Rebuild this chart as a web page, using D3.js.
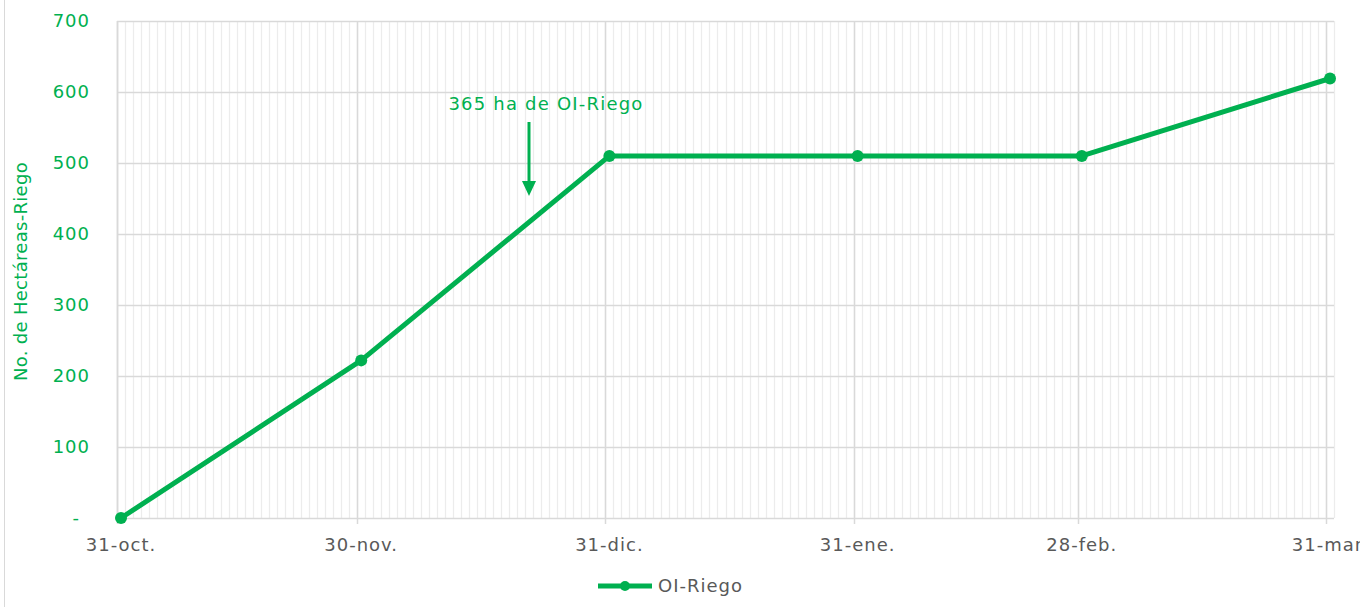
<!DOCTYPE html>
<html>
<head>
<meta charset="utf-8">
<script src="https://cdn.jsdelivr.net/npm/d3@7"></script>
<style>
  body { margin: 0; background: #fff; }
  svg { display: block; font-family: "DejaVu Sans", sans-serif; }
</style>
</head>
<body>
<div id="chart"></div>
<script>
// data
var dates = ["2022-10-31", "2022-11-30", "2022-12-31", "2023-01-31", "2023-02-28", "2023-03-31"];
var values = [0, 222, 510, 510, 510, 619];
var tickLabels = ["31-oct.", "30-nov.", "31-dic.", "31-ene.", "28-feb.", "31-mar."];
var yTicks = [0, 100, 200, 300, 400, 500, 600, 700];
var seriesName = "OI-Riego";
var noteText = "365 ha de OI-Riego";
var noteDate = "2022-12-21";

var width = 1360, height = 607;
var green = "#00b050", grey = "#595959";
var plotLeft = 117, plotRight = 1334, plotTop = 21, plotBottom = 518;

var parse = d3.utcParse("%Y-%m-%d");
var data = dates.map(function(d, i) { return { date: parse(d), value: values[i] }; });

var svg = d3.select("#chart").append("svg")
    .attr("width", width)
    .attr("height", height);

// chart area border (left edge visible)
svg.append("line")
    .attr("x1", 4.5).attr("x2", 4.5)
    .attr("y1", 0).attr("y2", height)
    .attr("stroke", "#d9d9d9");

// one slot per day, points sit in the middle of the slot
var scaleX = d3.scaleUtc()
    .domain([data[0].date, d3.utcDay.offset(data[data.length - 1].date, 1)])
    .range([plotLeft, plotRight]);
var scaleY = d3.scaleLinear()
    .domain([0, 700])
    .range([plotBottom, plotTop]);

function px(d) { return scaleX(d3.utcHour.offset(d, 12)); }

var g = svg.append("g");

// minor daily gridlines
var days = d3.utcDay.range(data[0].date, d3.utcDay.offset(data[data.length - 1].date, 2));
g.selectAll(".minor")
    .data(days)
    .enter()
    .append("line")
    .attr("x1", function(d) { return Math.round(scaleX(d)) + 0.5; })
    .attr("x2", function(d) { return Math.round(scaleX(d)) + 0.5; })
    .attr("y1", plotTop)
    .attr("y2", plotBottom)
    .attr("stroke", "#ececec")
    .attr("stroke-width", 1.2);

// horizontal gridlines
g.selectAll(".hgrid")
    .data(yTicks)
    .enter()
    .append("line")
    .attr("x1", plotLeft)
    .attr("x2", plotRight)
    .attr("y1", function(d) { return Math.round(scaleY(d)) + 0.5; })
    .attr("y2", function(d) { return Math.round(scaleY(d)) + 0.5; })
    .attr("stroke", "#d9d9d9")
    .attr("stroke-width", 1.3);

// major monthly gridlines + tick marks
g.selectAll(".major")
    .data(data)
    .enter()
    .append("line")
    .attr("x1", function(d) { return Math.round(scaleX(d.date)) + 0.5; })
    .attr("x2", function(d) { return Math.round(scaleX(d.date)) + 0.5; })
    .attr("y1", plotTop)
    .attr("y2", plotBottom + 6)
    .attr("stroke", "#d9d9d9")
    .attr("stroke-width", 1.5);

// left plot edge
g.append("line")
    .attr("x1", plotLeft + 0.5).attr("x2", plotLeft + 0.5)
    .attr("y1", plotTop).attr("y2", plotBottom)
    .attr("stroke", "#d9d9d9").attr("stroke-width", 1.5);

// y tick labels (zero shown as "-" like accounting format)
svg.selectAll(".ylab")
    .data(yTicks)
    .enter()
    .append("text")
    .attr("x", function(d) { return d === 0 ? 80 : 90; })
    .attr("y", function(d) { return scaleY(d); })
    .attr("dy", "0.35em")
    .attr("text-anchor", "end")
    .attr("fill", green)
    .style("font-size", "18px")
    .style("letter-spacing", "1px")
    .text(function(d) { return d === 0 ? "-" : d; });

// x tick labels
svg.selectAll(".xlab")
    .data(data)
    .enter()
    .append("text")
    .attr("x", function(d) { return px(d.date); })
    .attr("y", 551)
    .attr("text-anchor", "middle")
    .attr("fill", grey)
    .style("font-size", "18px")
    .style("letter-spacing", "1px")
    .text(function(d, i) { return tickLabels[i]; });

// y axis title
svg.append("text")
    .attr("transform", "translate(27," + ((plotTop + plotBottom) / 2 + 2) + ") rotate(-90)")
    .attr("text-anchor", "middle")
    .attr("fill", green)
    .style("font-size", "18px")
    .style("letter-spacing", "0.3px")
    .text("No. de Hectáreas-Riego");

// series line
var line = d3.line()
    .x(function(d) { return px(d.date); })
    .y(function(d) { return scaleY(d.value); });

g.append("path")
    .datum(data)
    .attr("fill", "none")
    .attr("stroke", green)
    .attr("stroke-width", 5)
    .attr("stroke-linejoin", "round")
    .attr("d", line);

g.selectAll(".dot")
    .data(data)
    .enter()
    .append("circle")
    .attr("cx", function(d) { return px(d.date); })
    .attr("cy", function(d) { return scaleY(d.value); })
    .attr("r", 6)
    .attr("fill", green);

// annotation
var nx = Math.round(px(parse(noteDate)));
svg.append("text")
    .attr("x", nx + 17)
    .attr("y", 110)
    .attr("text-anchor", "middle")
    .attr("fill", green)
    .style("font-size", "18px")
    .style("letter-spacing", "1.2px")
    .text(noteText);
svg.append("line")
    .attr("x1", nx).attr("x2", nx)
    .attr("y1", 122).attr("y2", 184)
    .attr("stroke", green).attr("stroke-width", 3);
svg.append("path")
    .attr("d", "M" + (nx - 7) + ",181L" + (nx + 7) + ",181L" + nx + ",196Z")
    .attr("fill", green);

// legend
var lg = svg.append("g").attr("transform", "translate(598,586)");
lg.append("line")
    .attr("x1", 0).attr("x2", 54)
    .attr("y1", 0).attr("y2", 0)
    .attr("stroke", green).attr("stroke-width", 5);
lg.append("circle").attr("cx", 27).attr("cy", 0).attr("r", 5).attr("fill", green);
lg.append("text")
    .attr("x", 60)
    .attr("y", 0)
    .attr("dy", "0.35em")
    .attr("fill", grey)
    .style("font-size", "18px")
    .style("letter-spacing", "1px")
    .text(seriesName);
</script>
</body>
</html>
